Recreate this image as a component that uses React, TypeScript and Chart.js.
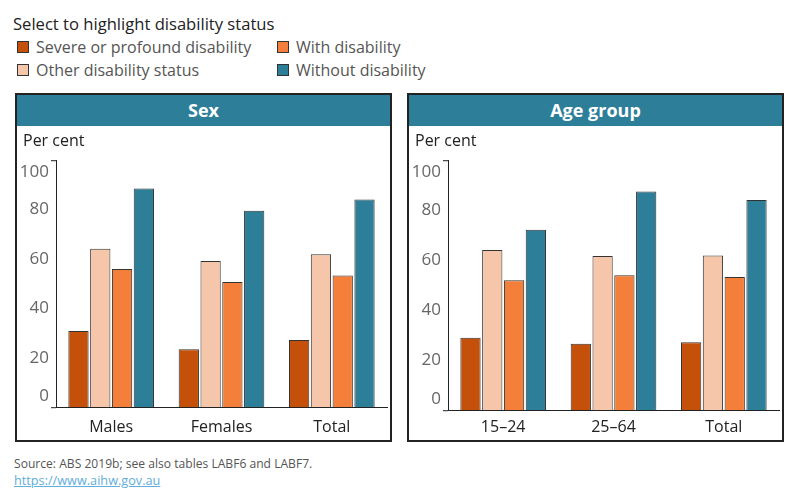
import React, { useEffect, useRef } from "react";
import { Chart, registerables } from "chart.js";

Chart.register(...registerables);

const FONT = "'Open Sans', 'Noto Sans', sans-serif";

const legendTitle = "Select to highlight disability status";
const seriesNames = [
  "Severe or profound disability",
  "Other disability status",
  "With disability",
  "Without disability",
];
const seriesColors = ["#C4500A", "#F5C6A9", "#F47F3A", "#2D7E99"];

const sexCategories = ["Males", "Females", "Total"];
const severeBySex = [30.9, 23.5, 27.2];
const otherBySex = [64.1, 59.2, 61.9];
const withBySex = [56.0, 50.7, 53.3];
const withoutBySex = [88.5, 79.5, 84.1];

const ageCategories = ["15–24", "25–64", "Total"];
const severeByAge = [29.0, 26.6, 27.2];
const otherByAge = [64.1, 61.7, 61.9];
const withByAge = [52.0, 54.0, 53.3];
const withoutByAge = [72.2, 87.5, 84.1];

const yMin = 0;
const yMax = 100;
const yStep = 20;

const sourceText = "Source: ABS 2019b; see also tables LABF6 and LABF7.";
const linkText = "https://www.aihw.gov.au";

// draws y tick labels, keeping the end labels inside the axis (Tableau style)
const clampedYLabels = {
  id: "clampedYLabels",
  afterDraw(chart: any) {
    const y = chart.scales.y;
    const x = chart.scales.x;
    const ctx = chart.ctx;
    ctx.save();
    ctx.font = `17px ${FONT}`;
    ctx.fillStyle = "#666";
    ctx.textAlign = "right";
    ctx.textBaseline = "middle";
    const margin = 11.5;
    y.ticks.forEach((t: any) => {
      let py = y.getPixelForValue(t.value);
      py = Math.max(y.top + margin, Math.min(y.bottom - margin, py));
      ctx.fillText(String(t.value), y.right - 7, py);
    });
    // small caps of the axis lines reaching left of the y axis
    ctx.strokeStyle = "#222";
    ctx.lineWidth = 1;
    ctx.beginPath();
    ctx.moveTo(x.left - 5, x.top + 0.5);
    ctx.lineTo(x.left, x.top + 0.5);
    ctx.moveTo(x.left - 5, y.top + 0.5);
    ctx.lineTo(x.left, y.top + 0.5);
    ctx.stroke();
    ctx.restore();
  },
};

function Panel(props: {
  left: number;
  title: string;
  categories: string[];
  series: number[][];
  tickPad: number;
  bottomPad: number;
}) {
  const ref = useRef<HTMLCanvasElement>(null);
  useEffect(() => {
    if (!ref.current) return;
    const chart = new Chart(ref.current, {
      type: "bar",
      data: {
        labels: props.categories,
        datasets: props.series.map((d, i) => ({
          label: seriesNames[i],
          data: d,
          backgroundColor: seriesColors[i],
          borderColor: "#333",
          borderWidth: 1,
          categoryPercentage: 0.79,
          barPercentage: 0.93,
        })),
      },
      options: {
        animation: false,
        responsive: false,
        maintainAspectRatio: false,
        layout: { padding: { left: 7, right: 3, top: 0, bottom: props.bottomPad } },
        plugins: {
          legend: { display: false },
          tooltip: { enabled: false },
          title: {
            display: true,
            text: "Per cent",
            align: "start",
            color: "#222",
            font: { family: FONT, size: 16, weight: "normal" },
            padding: { top: 4.5, bottom: 9.5 },
          },
        },
        scales: {
          x: {
            grid: { display: false, drawTicks: false },
            border: { display: true, color: "#222", width: 1 },
            ticks: {
              color: "#222",
              font: { family: FONT, size: 16 },
              padding: props.tickPad,
            },
          },
          y: {
            min: yMin,
            max: yMax,
            grid: { display: false, drawTicks: false },
            border: { display: true, color: "#222", width: 1 },
            ticks: { display: false, stepSize: yStep },
            afterFit: (s: any) => {
              s.width = 33;
            },
          },
        },
      },
      plugins: [clampedYLabels],
    });
    return () => chart.destroy();
  }, []);

  return (
    <div
      style={{
        position: "absolute",
        left: props.left,
        top: 93,
        width: 377,
        height: 349,
        border: "2px solid #222",
        boxSizing: "border-box",
        background: "#fff",
      }}
    >
      <div
        style={{
          position: "absolute",
          left: 0,
          top: 0,
          right: 0,
          height: 31,
          background: "#2D7E99",
          color: "#fff",
          fontFamily: FONT,
          fontWeight: 700,
          fontSize: 18,
          lineHeight: "31px",
          textAlign: "center",
        }}
      >
        {props.title}
      </div>
      <canvas
        ref={ref}
        width={374}
        height={322}
        style={{ position: "absolute", left: -1, top: 32, width: 374, height: 322 }}
      />
    </div>
  );
}

function LegendItem(props: { x: number; y: number; i: number }) {
  return (
    <div
      style={{
        position: "absolute",
        left: props.x,
        top: props.y,
        height: 20,
        display: "flex",
        alignItems: "center",
        fontFamily: FONT,
        fontSize: 16,
        color: "#555",
        whiteSpace: "nowrap",
      }}
    >
      <span
        style={{
          display: "inline-block",
          width: 12,
          height: 12,
          boxSizing: "border-box",
          border: "1px solid #333",
          background: seriesColors[props.i],
          marginRight: 7,
        }}
      />
      {seriesNames[props.i]}
    </div>
  );
}

export default function App() {
  return (
    <div
      style={{
        position: "absolute",
        left: 0,
        top: 0,
        width: 800,
        height: 500,
        background: "#fff",
        overflow: "hidden",
      }}
    >
      <div
        style={{
          position: "absolute",
          left: 13,
          top: 13,
          fontFamily: FONT,
          fontSize: 16.6,
          fontWeight: 500,
          color: "#222",
          lineHeight: "22px",
          whiteSpace: "nowrap",
        }}
      >
        {legendTitle}
      </div>
      <LegendItem x={17} y={37} i={0} />
      <LegendItem x={17} y={60} i={1} />
      <LegendItem x={277} y={37} i={2} />
      <LegendItem x={277} y={60} i={3} />

      <Panel
        left={15}
        title="Sex"
        categories={sexCategories}
        series={[severeBySex, otherBySex, withBySex, withoutBySex]}
        tickPad={10.5}
        bottomPad={1.6}
      />
      <Panel
        left={407}
        title="Age group"
        categories={ageCategories}
        series={[severeByAge, otherByAge, withByAge, withoutByAge]}
        tickPad={7.5}
        bottomPad={4.6}
      />

      <div
        style={{
          position: "absolute",
          left: 14,
          top: 455,
          fontFamily: FONT,
          fontSize: 12.1,
          color: "#555",
          lineHeight: "17px",
          whiteSpace: "nowrap",
        }}
      >
        {sourceText}
      </div>
      <div
        style={{
          position: "absolute",
          left: 14,
          top: 472,
          fontFamily: FONT,
          fontSize: 12.7,
          color: "#5FAEDC",
          lineHeight: "17px",
          textDecoration: "underline",
          whiteSpace: "nowrap",
        }}
      >
        {linkText}
      </div>
    </div>
  );
}
